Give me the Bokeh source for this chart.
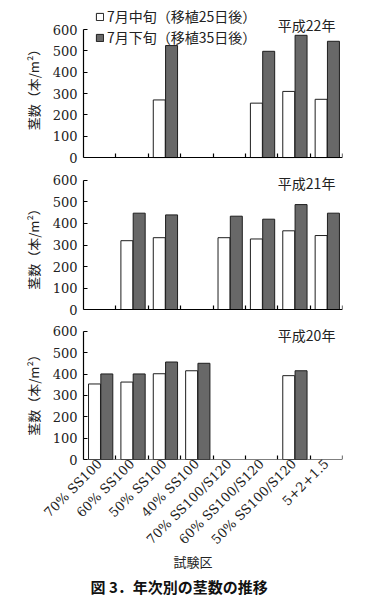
import math
from bokeh.plotting import figure
from bokeh.layouts import column
from bokeh.models import (ColumnDataSource, FixedTicker, LinearAxis, Range1d,
                          Label, Legend, LegendItem, Title)
from bokeh.transform import dodge
from bokeh.embed import file_html
from bokeh.resources import INLINE

# ---- data ----
categories = ["70% SS100", "60% SS100", "50% SS100", "40% SS100",
              "70% SS100/S120", "60% SS100/S120", "50% SS100/S120", "5+2+1.5"]
series_names = ["7月中旬（移植25日後）", "7月下旬（移植35日後）"]
year_labels = ["平成22年", "平成21年", "平成20年"]

h22_mid = [None, None, 270, None, None, 255, 310, 273]
h22_late = [None, None, 525, None, None, 498, 573, 545]
h21_mid = [None, 320, 334, None, 334, 328, 366, 344]
h21_late = [None, 448, 440, None, 434, 420, 488, 448]
h20_mid = [354, 363, 402, 416, None, None, 393, None]
h20_late = [401, 401, 457, 451, None, None, 416, None]

y_ticks = [0, 100, 200, 300, 400, 500, 600]
y_label = "茎数（本/m²）"
x_label = "試験区"
caption = "図 3．年次別の茎数の推移"

NUM_FONT = "DejaVu Serif"
JP_FONT = "Noto Sans CJK JP"
WHITE = "#ffffff"
GRAY = "#686868"
EDGE = "#1e1e1e"
TXT = "#222222"


def make_title(text, offset, standoff, fallback, size, style, color):
    kw = dict(text=text, align="left", offset=offset, vertical_align="top",
              text_font=JP_FONT, text_font_size=size, text_font_style=style,
              text_color=color)
    try:
        return Title(standoff=standoff, **kw)
    except Exception:
        return Title(standoff=fallback, **kw)


def make_panel(year, mid, late, y_start, y_end, top_b, bot_b, height, year_y,
               legend=False, bottom_labels=False):
    p = figure(width=358, height=height, x_range=Range1d(0, len(categories)),
               y_range=Range1d(y_start, y_end), output_backend="svg",
               toolbar_location=None,
               min_border_left=83, min_border_right=16,
               min_border_top=top_b, min_border_bottom=bot_b)
    p.outline_line_color = None
    p.grid.visible = False
    p.background_fill_color = "white"
    p.border_fill_color = "white"

    src = ColumnDataSource(dict(x=[i + 0.5 for i in range(len(categories))],
                                mid=[float("nan") if v is None else v for v in mid],
                                late=[float("nan") if v is None else v for v in late]))
    r1 = p.vbar(x=dodge("x", -0.16, range=p.x_range), top="mid", bottom=0, width=0.37,
                source=src, fill_color=WHITE, line_color=EDGE, line_width=1)
    r2 = p.vbar(x=dodge("x", 0.22, range=p.x_range), top="late", bottom=0, width=0.37,
                source=src, fill_color=GRAY, line_color=EDGE, line_width=1)

    # x axis drawn at y = 0: unlabeled (minor) ticks at category boundaries, inside
    xa = p.xaxis[0]
    xa.fixed_location = 0
    xa.ticker = FixedTicker(ticks=[], minor_ticks=list(range(1, len(categories) + 1)))
    xa.major_tick_line_color = None
    xa.minor_tick_in = 4
    xa.minor_tick_out = 0
    xa.minor_tick_line_color = "black"
    xa.minor_tick_line_width = 1.2
    xa.major_label_standoff = 0
    xa.axis_line_color = "black"
    xa.axis_line_width = 1.2

    ya = p.yaxis[0]
    ya.ticker = FixedTicker(ticks=y_ticks)
    ya.bounds = (0, 600)
    ya.major_tick_in = 4
    ya.major_tick_out = 0
    ya.minor_tick_line_color = None
    ya.axis_line_width = 1.2
    ya.major_tick_line_width = 1.2
    ya.major_label_text_font = NUM_FONT
    ya.major_label_text_font_size = "13px"
    ya.major_label_text_color = TXT
    ya.major_label_standoff = 6
    ya.axis_label = y_label
    ya.axis_label_text_font = JP_FONT
    ya.axis_label_text_font_size = "13px"
    ya.axis_label_text_font_style = "normal"
    ya.axis_label_text_color = TXT
    ya.axis_label_standoff = 7

    p.add_layout(Label(x=7.78, y=year_y, text=year, text_align="right",
                       text_baseline="middle", text_font=JP_FONT,
                       text_font_size="14px", text_color=TXT))

    if legend:
        for (name, r, vy) in [(series_names[0], r1, 143), (series_names[1], r2, 122)]:
            lg = Legend(items=[LegendItem(label=name, renderers=[r])],
                        location=(12, vy), orientation="vertical",
                        background_fill_alpha=0, border_line_color=None,
                        label_text_font=JP_FONT, label_text_font_size="14px",
                        label_text_color=TXT,
                        glyph_width=9, glyph_height=9, label_standoff=3,
                        label_height=16, spacing=0, padding=2, margin=0)
            p.add_layout(lg)

    if bottom_labels:
        la = LinearAxis(ticker=FixedTicker(ticks=[i + 0.5 for i in range(len(categories))]),
                        major_label_overrides={i + 0.5: c for i, c in enumerate(categories)},
                        major_label_orientation=math.pi / 4,
                        axis_line_color=None, major_tick_line_color=None,
                        minor_tick_line_color=None,
                        major_tick_in=0, major_tick_out=0, major_label_standoff=2,
                        major_label_text_font=NUM_FONT, major_label_text_font_size="13px",
                        major_label_text_color=TXT)
        p.add_layout(la, "below")
        p.add_layout(make_title(x_label, 90, -8, 0, "13px", "normal", TXT), "below")
        p.add_layout(make_title(caption, 7, 15, 0, "15px", "bold", "#111111"), "below")
    return p


p1 = make_panel("平成22年", h22_mid, h22_late, -56, 722.1, 3, 2, 171, 620, legend=True)
p2 = make_panel("平成21年", h21_mid, h21_late, -46.5, 637.2, 1, 2, 150, 590)
p3 = make_panel("平成20年", h20_mid, h20_late, 0, 632.8, 3, 149, 287, 583,
                bottom_labels=True)

layout = column(p1, p2, p3, spacing=0)

with open("out.html", "w") as f:
    f.write(file_html(layout, INLINE))
